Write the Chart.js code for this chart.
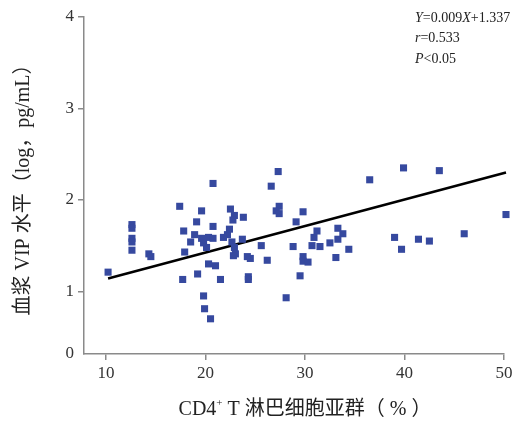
<!DOCTYPE html>
<html>
<head>
<meta charset="utf-8">
<script src="https://cdn.jsdelivr.net/npm/chart.js@4.4.0/dist/chart.umd.min.js"></script>
<style>
    html, body { margin: 0; padding: 0; background: #fff; }
</style>
</head>
<body>
<canvas id="vipChart" width="529" height="424"></canvas>
<script>
// CD4+ T cell subset (%) vs plasma VIP (log, pg/mL)
const cd4Values = [
    10.2, 12.6, 12.6, 12.6, 12.6, 12.6, 14.3, 14.5, 17.4, 17.8,
    17.9, 17.7, 18.9, 18.5, 19.1, 19.6, 19.6, 19.8, 20.1, 19.2,
    19.8, 19.9, 20.5, 20.3, 20.75, 20.75, 20.75, 20.3, 21.0, 21.5,
    21.8, 22.2, 22.4, 22.5, 22.9, 22.75, 23.8, 22.65, 23.7, 22.9,
    23.0, 22.8, 24.2, 24.5, 24.3, 24.3, 25.6, 26.2, 26.6, 27.3,
    27.4, 27.1, 27.4, 28.1, 28.8, 29.1, 29.8, 29.8, 29.8, 30.3,
    29.5, 30.9, 31.2, 30.7, 31.5, 32.5, 33.3, 33.8, 33.3, 33.1,
    34.4, 36.5, 39.9, 43.5, 39.0, 39.7, 41.4, 42.5, 46.0, 50.2
];
const vipValues = [
    1.21, 1.73, 1.69, 1.58, 1.54, 1.45, 1.41, 1.38, 1.93, 1.66,
    1.43, 1.13, 1.62, 1.54, 1.76, 1.88, 1.58, 1.53, 1.48, 1.19,
    0.95, 0.81, 0.70, 1.59, 1.58, 1.71, 2.18, 1.30, 1.28, 1.13,
    1.59, 1.62, 1.68, 1.90, 1.83, 1.78, 1.81, 1.54, 1.57, 1.48,
    1.41, 1.39, 1.38, 1.36, 1.16, 1.13, 1.50, 1.34, 2.15, 2.31,
    1.93, 1.88, 1.85, 0.93, 1.49, 1.76, 1.87, 1.38, 1.33, 1.32,
    1.17, 1.59, 1.66, 1.50, 1.49, 1.53, 1.69, 1.63, 1.57, 1.37,
    1.46, 2.22, 2.35, 2.32, 1.59, 1.46, 1.57, 1.55, 1.63, 1.84
];

// fitted line as drawn
const fitX = [10.2, 50.2];
const fitY = [1.14, 2.30];

const xTicks = [10, 20, 30, 40, 50];
const yTicks = [1, 2, 3, 4];
const xStart = 7.78;
const yStart = 0.315; // axis origin, labelled "0" (broken axis)

const statLines = [
    [{ t: "Y", i: true }, { t: "=0.009" }, { t: "X", i: true }, { t: "+1.337" }],
    [{ t: "r", i: true }, { t: "=0.533" }],
    [{ t: "P", i: true }, { t: "<0.05" }]
];

const SERIF = '"Liberation Serif", "Noto Sans CJK SC", serif';

const points = cd4Values.map((x, i) => ({ x: x, y: vipValues[i] }));
const fitPoints = fitX.map((x, i) => ({ x: x, y: fitY[i] }));

function drawRuns(ctx, runs, x, y, size) {
    let cx = x;
    runs.forEach(r => {
        ctx.font = `${r.i ? "italic " : ""}${size}px ${SERIF}`;
        ctx.fillText(r.t, cx, y);
        cx += ctx.measureText(r.t).width;
    });
}

const textPlugin = {
    id: "textPlugin",
    afterDraw(chart) {
        const ctx = chart.ctx;
        ctx.save();
        ctx.fillStyle = "#222";
        ctx.textBaseline = "middle";
        ctx.textAlign = "left";

        // regression stats, top right
        statLines.forEach((runs, i) => drawRuns(ctx, runs, 415, 18 + i * 20.5, 14));

        // x title: CD4+ T 淋巴细胞亚群（%）
        const parts = [
            { t: "CD4", s: 20, dy: 0 },
            { t: "+", s: 11, dy: -7 },
            { t: " T 淋巴细胞亚群（ % ）", s: 20, dy: 0 }
        ];
        let total = 0;
        parts.forEach(p => {
            ctx.font = `${p.s}px ${SERIF}`;
            total += ctx.measureText(p.t).width;
        });
        let cx = 305 - total / 2;
        parts.forEach(p => {
            ctx.font = `${p.s}px ${SERIF}`;
            ctx.fillText(p.t, cx, 410 + p.dy);
            cx += ctx.measureText(p.t).width;
        });

        // y title
        ctx.translate(24, 185);
        ctx.rotate(-Math.PI / 2);
        ctx.textAlign = "center";
        ctx.font = `20px ${SERIF}`;
        ctx.fillText("血浆 VIP 水平（log，pg/mL）", 0, 0);
        ctx.restore();
    }
};

const axisColor = "#8a8a8a";
const tickFont = { family: SERIF, size: 17 };

new Chart(document.getElementById("vipChart").getContext("2d"), {
    type: "scatter",
    data: {
        datasets: [
            {
                type: "scatter",
                data: points,
                pointStyle: "rect",
                pointRadius: 5,
                backgroundColor: "#36499f",
                borderWidth: 0,
                clip: false
            },
            {
                type: "line",
                data: fitPoints,
                borderColor: "#000",
                borderWidth: 2.5,
                pointRadius: 0,
                fill: false,
                clip: false
            }
        ]
    },
    options: {
        responsive: false,
        animation: false,
        layout: { padding: { top: 17, right: 25, left: 0, bottom: 0 } },
        plugins: {
            legend: { display: false },
            tooltip: { enabled: false }
        },
        scales: {
            x: {
                type: "linear",
                min: xStart,
                max: 50,
                afterBuildTicks: scale => { scale.ticks = xTicks.map(v => ({ value: v })); },
                afterFit: scale => { scale.height = 70; },
                grid: { drawOnChartArea: false, drawTicks: true, tickLength: 6, color: axisColor, lineWidth: 1.5 },
                border: { color: axisColor, width: 1.5 },
                ticks: { font: tickFont, color: "#333", padding: 3, maxRotation: 0 }
            },
            y: {
                type: "linear",
                min: yStart,
                max: 4,
                afterBuildTicks: scale => { scale.ticks = [yStart].concat(yTicks).map(v => ({ value: v })); },
                afterFit: scale => { scale.width = 84; },
                grid: {
                    drawOnChartArea: false,
                    drawTicks: true,
                    tickLength: 6,
                    lineWidth: 1.5,
                    color: c => (c.tick && c.tick.value < 0.5) ? "rgba(0,0,0,0)" : axisColor
                },
                border: { color: axisColor, width: 1.5 },
                ticks: {
                    font: tickFont,
                    color: "#333",
                    padding: 4,
                    callback: v => (v < 0.5 ? "0" : String(v))
                }
            }
        }
    },
    plugins: [textPlugin]
});
</script>
</body>
</html>
